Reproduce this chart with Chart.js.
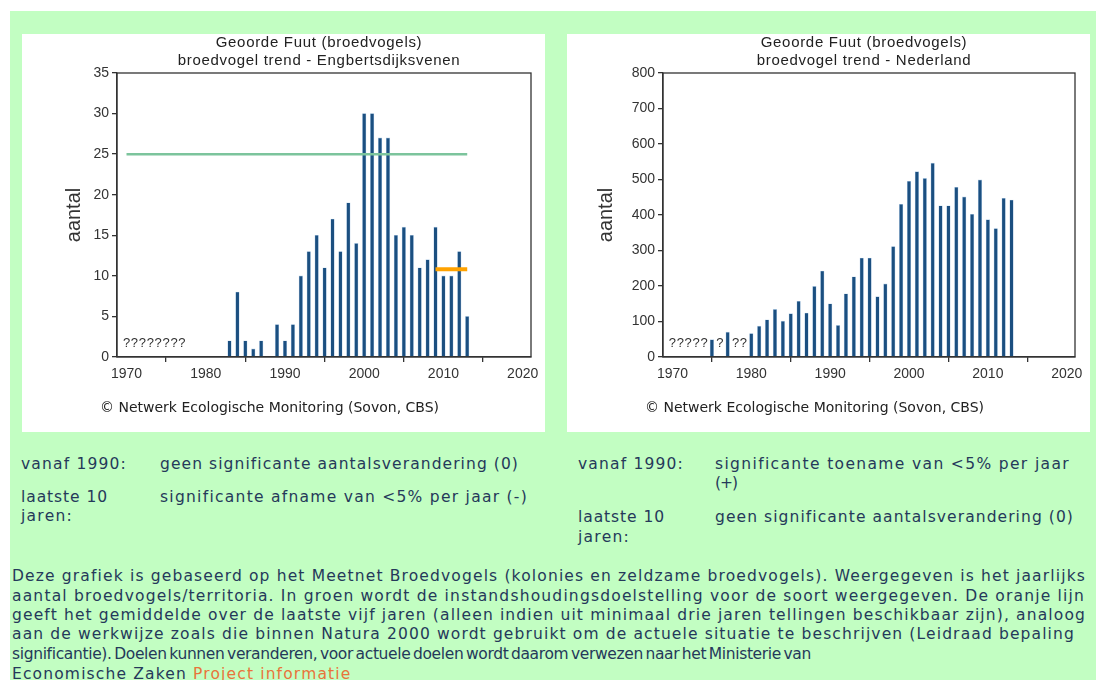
<!DOCTYPE html>
<html>
<head>
<meta charset="utf-8">
<script src="https://cdn.jsdelivr.net/npm/chart.js@4/dist/chart.umd.min.js"></script>
<style>
  html, body { margin: 0; padding: 0; background: #ffffff; width: 1096px; height: 680px; overflow: hidden; }
  #green { position: absolute; left: 10px; top: 11px; width: 1086px; height: 669px; background: #c2fec2; }
  .panel { position: absolute; top: 34px; width: 523px; height: 398px; background: #ffffff; }
  .panel canvas { position: absolute; left: 0; top: 0; }
  .copy { position: absolute; font-family: "DejaVu Sans", Verdana, sans-serif; font-size: 14px; color: #222; white-space: nowrap; line-height: 16px; }
  .t { position: absolute; font-family: "DejaVu Sans", Verdana, sans-serif; font-size: 15.5px; color: #25395a; white-space: nowrap; line-height: 20px; }
  .link { color: #e8743b; }
</style>
</head>
<body>
<div id="green"></div>
<div class="panel" style="left:22px"><canvas id="c1" width="523" height="398"></canvas>
  <div class="copy" style="left:78px; top:365px">© Netwerk Ecologische Monitoring (Sovon, CBS)</div></div>
<div class="panel" style="left:567px"><canvas id="c2" width="523" height="398"></canvas>
  <div class="copy" style="left:78px; top:365px">© Netwerk Ecologische Monitoring (Sovon, CBS)</div></div>

<div class="t fit" data-w="106" style="left:21px; top:454px">vanaf 1990:</div>
<div class="t fit" data-w="359" style="left:160px; top:454px">geen significante aantalsverandering (0)</div>
<div class="t fit" data-w="87" style="left:21px; top:487px">laatste 10</div>
<div class="t fit" data-w="52" style="left:21px; top:506px">jaren:</div>
<div class="t fit" data-w="368" style="left:160px; top:487px">significante afname van &lt;5% per jaar (-)</div>

<div class="t fit" data-w="106" style="left:578px; top:454px">vanaf 1990:</div>
<div class="t fit" data-w="355" style="left:715px; top:454px">significante toename van &lt;5% per jaar</div>
<div class="t fit" data-w="22" style="left:715px; top:473px">(+)</div>
<div class="t fit" data-w="87" style="left:578px; top:507px">laatste 10</div>
<div class="t fit" data-w="52" style="left:578px; top:527px">jaren:</div>
<div class="t fit" data-w="359" style="left:715px; top:507px">geen significante aantalsverandering (0)</div>

<div class="t fit para" data-w="1074" style="left:12px; top:566px">Deze grafiek is gebaseerd op het Meetnet Broedvogels (kolonies en zeldzame broedvogels). Weergegeven is het jaarlijks</div>
<div class="t fit para" data-w="1073" style="left:12px; top:586px">aantal broedvogels/territoria. In groen wordt de instandshoudingsdoelstelling voor de soort weergegeven. De oranje lijn</div>
<div class="t fit para" data-w="1074" style="left:12px; top:605px">geeft het gemiddelde over de laatste vijf jaren (alleen indien uit minimaal drie jaren tellingen beschikbaar zijn), analoog</div>
<div class="t fit para" data-w="1063" style="left:12px; top:624px">aan de werkwijze zoals die binnen Natura 2000 wordt gebruikt om de actuele situatie te beschrijven (Leidraad bepaling</div>
<div class="t squeeze" data-w="799" style="left:12px; top:644px">significantie). Doelen kunnen veranderen, voor actuele doelen wordt daarom verwezen naar het Ministerie van</div>
<div class="t rest" style="left:12px; top:664px">Economische Zaken <span class="link">Project informatie</span></div>

<script>
// ---- data ----
const xTickValues = [1970, 1980, 1990, 2000, 2010, 2020];

const leftTitle = ["Geoorde Fuut (broedvogels)", "broedvogel trend - Engbertsdijksvenen"];
const leftYears = [1983,1984,1985,1986,1987,1989,1990,1991,1992,1993,1994,1995,1996,1997,1998,1999,2000,2001,2002,2003,2004,2005,2006,2007,2008,2009,2010,2011,2012,2013];
const leftValues = [2,8,2,1,2,4,2,4,10,13,15,11,17,13,19,14,30,30,27,27,15,16,15,11,12,16,10,10,13,5];
const leftGoalYears = [1970, 2013];
const leftGoal = 25;
const leftMeanYears = [2009, 2013];
const leftMean = 10.8;
const leftMissingYears = [1970,1971,1972,1973,1974,1975,1976,1977];

const rightTitle = ["Geoorde Fuut (broedvogels)", "broedvogel trend - Nederland"];
const rightYears = [1975,1977,1980,1981,1982,1983,1984,1985,1986,1987,1988,1989,1990,1991,1992,1993,1994,1995,1996,1997,1998,1999,2000,2001,2002,2003,2004,2005,2006,2007,2008,2009,2010,2011,2012,2013];
const rightValues = [49,70,66,87,105,134,101,122,157,124,199,242,150,89,178,226,279,279,170,206,311,430,495,522,503,546,426,426,478,451,402,499,387,362,447,442];
const rightMissingYears = [1970,1971,1972,1973,1974,1976,1978,1979];

// ---- fit text widths ----
let paraSum = 0, paraN = 0;
document.querySelectorAll('.fit').forEach(el => {
  const target = +el.dataset.w;
  const w = el.getBoundingClientRect().width;
  const n = el.textContent.length;
  const ls = (target - w) / n;
  el.style.letterSpacing = ls + 'px';
  if (el.classList.contains('para')) { paraSum += ls; paraN++; }
});
document.querySelectorAll('.rest').forEach(el => { el.style.letterSpacing = (paraSum / paraN) + 'px'; });
document.querySelectorAll('.squeeze').forEach(el => {
  el.style.letterSpacing = '-0.35px';
  const w = el.getBoundingClientRect().width;
  const spaces = (el.textContent.match(/ /g) || []).length;
  el.style.wordSpacing = Math.max(-2.5, (+el.dataset.w - w) / spaces) + 'px';
  const w2 = el.getBoundingClientRect().width;
  el.style.letterSpacing = (-0.35 + (+el.dataset.w - w2) / el.textContent.length) + 'px';
});

const AXIS = '#333333';
const FONT = 'Liberation Sans, Arial, sans-serif';

const extrasPlugin = {
  id: 'extras',
  afterDraw(chart, args, opts) {
    const ctx = chart.ctx;
    const a = chart.chartArea;
    ctx.save();
    ctx.strokeStyle = AXIS;
    ctx.lineWidth = 1.3;
    ctx.strokeRect(a.left, a.top, a.right - a.left, a.bottom - a.top);
    // titles
    ctx.fillStyle = '#222';
    ctx.font = '15px ' + FONT;
    ctx.letterSpacing = '0.7px';
    ctx.textAlign = 'center';
    ctx.textBaseline = 'middle';
    const cx = (a.left + a.right) / 2 - 5;
    ctx.fillText(opts.title[0], cx, 9);
    ctx.fillText(opts.title[1], cx, 27);
    ctx.letterSpacing = '0px';
    // missing-year markers
    ctx.font = '13px ' + FONT;
    ctx.fillStyle = '#333';
    const xs = chart.scales.x;
    opts.missing.forEach(yr => {
      ctx.fillText('?', xs.getPixelForValue(yr), a.bottom - 14);
    });
    ctx.restore();
  }
};

function makeChart(id, years, values, yMax, yStep, yWidth, padRight, titlePad, title, missing, extraSets) {
  const barData = years.map((yr, i) => ({ x: yr, y: values[i] }));
  const datasets = [{
    type: 'bar',
    data: barData,
    backgroundColor: '#1b4f80',
    borderColor: 'rgba(120,165,210,0.55)',
    borderWidth: 0.6,
    barThickness: 3.6,
    order: 2
  }].concat(extraSets);
  return new Chart(document.getElementById(id), {
    type: 'bar',
    data: { datasets },
    plugins: [extrasPlugin],
    options: {
      responsive: false,
      animation: false,
      events: [],
      layout: { padding: { top: 39, left: 0, right: padRight, bottom: 0 } },
      plugins: {
        legend: { display: false },
        tooltip: { enabled: false },
        extras: { title, missing }
      },
      scales: {
        x: {
          type: 'linear',
          min: 1968.8,
          max: 2021.05,
          offset: false,
          afterBuildTicks: s => { s.ticks = xTickValues.map(v => ({ value: v })); },
          afterFit: s => { s.height = 75; },
          grid: { drawOnChartArea: false, drawTicks: true, tickLength: 5, color: AXIS, lineWidth: 1.3 },
          border: { display: true, color: AXIS, width: 1.3 },
          ticks: { color: '#333', font: { family: FONT, size: 14 }, padding: 4, maxRotation: 0, autoSkip: false, callback: v => String(v) }
        },
        y: {
          min: 0,
          max: yMax,
          afterFit: s => { s.width = yWidth; },
          grid: { drawOnChartArea: false, drawTicks: true, tickLength: 5, color: AXIS, lineWidth: 1.3 },
          border: { display: true, color: AXIS, width: 1.3 },
          ticks: { stepSize: yStep, color: '#333', font: { family: FONT, size: 14 }, padding: 3 },
          title: { display: true, text: 'aantal', color: '#333', font: { family: FONT, size: 20 }, padding: { top: titlePad, bottom: 0 } }
        }
      }
    }
  });
}

makeChart('c1', leftYears, leftValues, 35, 5, 95, 14, 40, leftTitle, leftMissingYears, [
  { type: 'line', data: leftGoalYears.map(x => ({ x, y: leftGoal })), borderColor: '#7cc49c', borderWidth: 2.5, pointRadius: 0, order: 1 },
  { type: 'line', data: leftMeanYears.map(x => ({ x, y: leftMean })), borderColor: '#ffa200', borderWidth: 4, pointRadius: 0, order: 0 }
]);
makeChart('c2', rightYears, rightValues, 800, 100, 96, 15, 27, rightTitle, rightMissingYears, []);
</script>
</body>
</html>
